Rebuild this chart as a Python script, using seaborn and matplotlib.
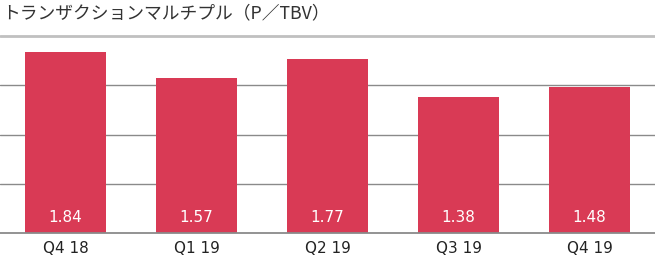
import matplotlib
matplotlib.use("Agg")
import matplotlib.pyplot as plt
import seaborn as sns
import pandas as pd

categories = ["Q4 18", "Q1 19", "Q2 19", "Q3 19", "Q4 19"]
values = [1.84, 1.57, 1.77, 1.38, 1.48]
value_labels = ["1.84", "1.57", "1.77", "1.38", "1.48"]
title = "トランザクションマルチプル（P／TBV）"
grid_ticks = [0.5, 1.0, 1.5]

sns.set_theme(style="white")
plt.rcParams['font.family'] = ['DejaVu Sans', 'Noto Sans CJK JP']

BAR = "#d93a55"
fig = plt.figure(figsize=(6.55, 2.62), dpi=100)
ax = fig.add_axes([0, 29/262, 1, 197/262])

df = pd.DataFrame({"cat": categories, "val": values})
sns.barplot(data=df, x="cat", y="val", color=BAR, saturation=1, width=0.62,
            linewidth=0, edgecolor=BAR, ax=ax, zorder=3)

ax.set_ylim(0, 2.0)
ax.set_xlim(-0.5, len(categories) - 0.5)
for t in grid_ticks:
    ax.axhline(t, color="#8a8a8a", lw=1.0, zorder=1)
ax.axhline(2.0, color="#c0c0c0", lw=2.0, zorder=1, clip_on=False)
ax.axhline(0, color="#8a8a8a", lw=1.3, zorder=4, clip_on=False)

for s in ax.spines.values():
    s.set_visible(False)
ax.set_yticks([])
ax.set_xlabel("")
ax.set_ylabel("")
ax.tick_params(axis="x", length=0, pad=6, labelsize=11, colors="#222222")

for i, lab in enumerate(value_labels):
    ax.annotate(lab, xy=(i, 0), xytext=(0, 16), textcoords="offset pixels",
                ha="center", va="center", color="white", fontsize=11, zorder=5)

fig.text(2/655, 1 - 13/262, title, ha="left", va="center", fontsize=12.8,
         color="#333333", family=['Noto Sans CJK JP', 'DejaVu Sans'])

fig.savefig("out.png", dpi=100)
